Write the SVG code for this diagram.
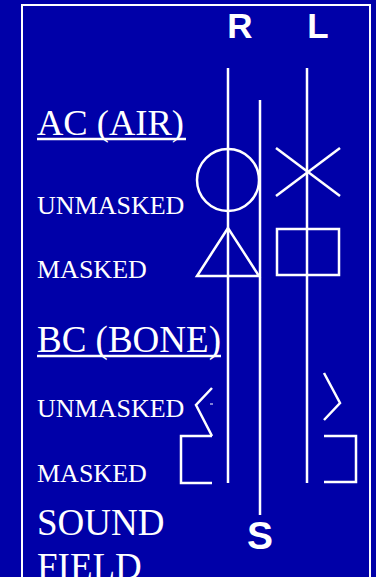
<svg xmlns="http://www.w3.org/2000/svg" width="376" height="577" viewBox="0 0 376 577">
<style>
.s{fill:none;stroke:#fff;stroke-width:2.5}
.t{font-family:"Liberation Serif","Times New Roman",serif;fill:#fff}
.h{font-family:"Liberation Sans",Arial,sans-serif;font-weight:bold;fill:#fff;text-anchor:middle}
</style>
<rect width="376" height="577" fill="#0000A8"/>
<rect x="22" y="5" width="348" height="600" fill="none" stroke="#fff" stroke-width="2"/>
<g id="connectors" class="s">
<line x1="228" y1="68" x2="228" y2="483"/>
<line x1="260" y1="100" x2="260" y2="515"/>
<line x1="307" y1="68" x2="307" y2="483"/>
</g>
<g id="label-R"><text class="h" x="240" y="38" font-size="35">R</text></g>
<g id="label-L"><text class="h" x="318" y="38" font-size="35">L</text></g>
<g id="label-S"><text class="h" x="260" y="549" font-size="39">S</text></g>
<g id="ac-air"><text class="t" x="37" y="135" font-size="36.5">AC (AIR)</text><line class="s" x1="37" y1="139" x2="186" y2="139" stroke-width="2"/></g>
<g id="ac-unmasked"><text class="t" x="37" y="214" font-size="26">UNMASKED</text></g>
<g id="ac-masked"><text class="t" x="37" y="278" font-size="26">MASKED</text></g>
<g id="bc-bone"><text class="t" x="37" y="352" font-size="37">BC (BONE)</text><line class="s" x1="37" y1="356" x2="221" y2="356" stroke-width="2"/></g>
<g id="bc-unmasked"><text class="t" x="37" y="417" font-size="26">UNMASKED</text></g>
<g id="bc-masked"><text class="t" x="37" y="482" font-size="26">MASKED</text></g>
<g id="sound-field"><text class="t" x="37" y="535" font-size="37">SOUND</text><text class="t" x="37" y="579" font-size="37">FIELD</text></g>
<g id="sym-circle"><circle class="s" cx="228" cy="180" r="31"/></g>
<g id="sym-x"><line class="s" x1="276" y1="148" x2="340" y2="196"/><line class="s" x1="276" y1="196" x2="340" y2="148"/></g>
<g id="sym-triangle"><polygon class="s" points="228,228 197,276 259,276"/></g>
<g id="sym-square"><rect class="s" x="277" y="229" width="62" height="46"/></g>
<g id="sym-bc-r-unmasked"><polyline class="s" points="212,388 196,405 212,436"/><line x1="210" y1="404" x2="213" y2="404" stroke="#fff" stroke-width="1"/></g>
<g id="sym-bc-r-masked"><polyline class="s" points="212,436 181,436 181,483 212,483"/></g>
<g id="sym-bc-l-unmasked"><polyline class="s" points="324,373 340,403 324,420"/></g>
<g id="sym-bc-l-masked"><polyline class="s" points="324,436 356,436 356,482 324,482"/></g>
</svg>
